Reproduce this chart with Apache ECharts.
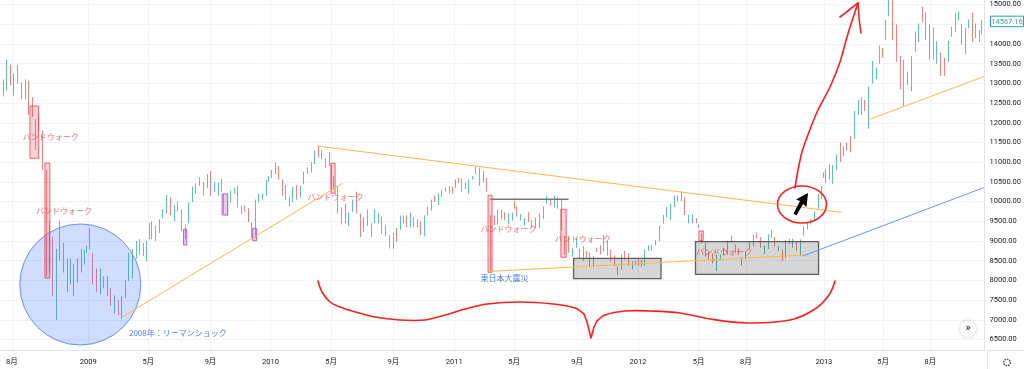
<!DOCTYPE html>
<html><head><meta charset="utf-8">
<script src="https://cdn.jsdelivr.net/npm/echarts@6/dist/echarts.min.js"></script>
<style>html,body{margin:0;padding:0;background:#fff;}#c{width:1024px;height:369px;}</style>
</head><body><div id="c"></div>
<script>
// Nikkei 225, weekly candles (week starting 2008-07-07 .. 2013-11-11)
// trading days in each week (x axis is a trading-day index, like the original chart)
const tradingDays = [
// 2008
5,5,4,5,5,5,5,5,5,5,4,4,5,5,4,5,5,4,5,5,4,5,5,5,4,2,
// 2009
5,4,5,5,5,4,5,5,5,5,4,5,5,5,5,5,4,2,5,5,5,5,5,5,5,5,5,5,4,5,5,5,5,5,5,5,5,2,5,5,4,5,5,4,5,5,4,5,5,5,4,3,
// 2010
5,4,5,5,5,4,5,5,5,5,5,4,5,5,5,5,4,2,5,5,5,5,5,5,5,5,5,5,4,5,5,5,5,5,5,5,5,3,5,5,4,5,5,4,5,5,4,5,5,5,4,4,
// 2011
4,4,5,5,5,4,5,5,5,5,5,4,5,5,5,5,4,2,5,5,5,5,5,5,5,5,5,5,4,5,5,5,5,5,5,5,5,3,5,5,4,5,5,4,5,5,4,5,5,5,4,5,
// 2012
3,4,5,5,5,5,5,5,5,5,5,4,5,5,5,5,5,2,5,5,5,5,5,5,5,5,5,5,4,5,5,5,5,5,5,5,5,4,5,5,4,5,5,5,5,5,4,5,5,5,5,4,
// 2013
1,5,4,5,5,5,4,5,5,5,5,4,5,5,5,5,5,3,4,5,5,5,5,5,5,5,5,5,4,5,5,5,5,5,5,5,5,4,4,5,5,4,5,5,4,3
];
const opens = [
13480,13030,12840,13290,13150,13250,13000,12650,13000,12300,12000,12100,11800,10800,8400,8800,7500,8800,8600,8450,8000,8400,8000,8300,8600,8740,
8990,8700,8250,7700,7950,8050,7750,7380,7450,7100,7600,8000,8500,8800,8950,8900,8700,9100,9450,9250,9250,9600,9800,10100,9800,9850,9800,9250,9450,10000,10350,10450,10500,10350,10600,10250,10350,10400,10150,9700,10000,10250,10300,9900,9800,9780,9450,9100,10100,10100,10150,10500,
10650,10850,10900,10550,10200,10000,10050,10200,10150,10450,10750,10800,11000,11300,11180,11000,11000,10900,10450,10400,9750,9700,9600,9750,10150,9680,9250,9550,9300,9500,9570,9580,9200,9100,9150,9300,9300,9600,9600,9380,9390,9500,9400,9150,9730,9830,10100,10120,10170,10290,10220,10350,
10350,10510,10500,10340,10240,10590,10720,10850,10620,10500,9600,9600,9480,9720,9720,9550,9670,9900,9790,9560,9460,9500,9380,9390,9350,9580,9960,10070,9890,10050,9960,9100,9080,8630,8850,8780,8530,8720,8370,8550,8770,8880,8840,8990,8770,8600,8350,8290,8700,8650,8300,8480,
8550,8420,8380,8770,8790,8930,9000,9480,9630,9700,9890,10140,10020,10110,9550,9470,9540,9400,9120,8970,8630,8590,8300,8620,8720,8730,9000,8900,8750,8510,8630,8800,8880,9170,9080,8780,8870,9120,9070,8800,8770,8580,9010,8930,8980,8680,9150,9390,9460,9530,9830,10080,
10600,10600,10880,10750,10820,11260,11370,11400,11660,11650,12350,12220,12550,12130,13190,13280,13570,13860,14180,14780,15360,14140,13260,13510,13030,13060,13850,14110,14600,14660,13660,14260,13520,13760,13640,13570,14200,14310,14730,14460,13850,14440,14690,14400,14220,14270
];
const closes = [
13040,12800,13330,13170,13170,13020,12670,13070,12210,12210,11920,11890,10940,8280,8690,7650,8580,8580,8460,7910,8510,7920,8240,8590,8740,8860,
8840,8230,7750,7990,8080,7780,7420,7570,7170,7570,7950,8630,8750,8960,8910,8710,8980,9430,9270,9230,9520,9770,10140,9790,9880,9820,9290,9400,9940,10360,10410,10600,10240,10530,10190,10440,10370,10270,9730,9980,10260,10280,10030,9790,9770,9500,9080,10020,10110,10140,10490,10550,
10800,10980,10590,10200,10060,10090,10120,10130,10370,10750,10820,10990,11290,11200,11100,10910,11060,10360,10460,9780,9770,9900,9700,9990,9740,9200,9590,9410,9430,9540,9640,9250,9180,8990,9110,9240,9630,9470,9400,9590,9500,9430,9200,9630,9720,10020,10040,10180,10210,10300,10280,10230,
10540,10500,10270,10360,10540,10600,10840,10530,10690,10250,9210,9540,9710,9770,9590,9680,9690,9860,9650,9610,9520,9490,9510,9350,9680,9870,10140,9970,10130,9830,9300,8960,8720,8800,8950,8740,8860,8560,8700,8600,8750,8680,9050,8800,8510,8370,8160,8640,8540,8400,8400,8460,
8390,8500,8770,8840,8830,8950,9380,9650,9780,9930,10130,10010,10080,9690,9640,9560,9520,9380,8950,8610,8590,8440,8460,8650,8800,9010,9020,8720,8670,8570,8560,8890,9160,9070,8840,8870,9160,9110,8870,8860,8530,9000,8930,9050,8760,9020,9370,9450,9530,9740,9940,10400,
10690,10800,10910,10930,11190,11150,11170,11390,11610,12280,12560,12340,12400,12830,13490,13320,13880,13690,14610,15140,14610,13770,12880,12690,13230,13680,14310,14510,14590,14130,14470,13620,13650,13660,13390,13860,14400,14740,14760,14020,14400,14560,14090,14200,14090,14567.16
];
const lows = [
12950,12670,12820,12950,12690,12990,12600,12600,12200,12150,11300,11800,10800,8110,8200,7600,6990,8500,8200,7700,7900,7600,7950,8200,8400,8700,
8800,7900,7700,7650,7800,7600,7350,7160,7120,7020,7550,7980,8050,8550,8650,8620,8480,9050,9050,9000,9200,9580,9700,9650,9500,9750,9250,9050,9450,9990,10200,10400,10150,10350,10150,10250,10150,10250,9700,9630,9980,10200,9850,9680,9740,9480,9080,9080,9980,10050,10150,10500,
10600,10700,10560,10150,10040,9870,9990,10050,10100,10450,10700,10750,10950,11120,11080,10850,10900,10300,10350,9700,9420,9460,9380,9740,9700,9100,9230,9380,9100,9450,9450,9180,9120,8810,8800,8980,9280,9450,9350,9350,9350,9350,9150,9120,9650,9770,9990,9920,10120,10250,10200,10200,
10350,10470,10250,10320,10200,10560,10700,10400,10480,10250,8230,9400,9420,9550,9530,9420,9520,9820,9620,9530,9390,9480,9350,9330,9320,9560,9950,9900,9850,9820,9270,8650,8700,8600,8830,8570,8500,8540,8340,8340,8720,8660,8740,8630,8480,8360,8140,8270,8520,8370,8280,8390,
8380,8350,8370,8750,8760,8900,8990,9440,9600,9540,9860,10000,10010,9660,9450,9450,9450,9330,8940,8600,8540,8430,8240,8520,8640,8650,9000,8700,8650,8370,8540,8790,8870,9060,8830,8670,8800,9080,8860,8740,8500,8570,8920,8830,8750,8620,9130,9300,9420,9520,9820,10070,
10600,10480,10560,10450,10800,11000,11150,11300,11250,11600,12200,12200,12300,11850,13000,13100,13500,13650,14100,14700,14100,13550,12850,12410,12950,12800,13800,14050,14550,14100,13600,13600,13500,13190,13190,13550,14180,14300,14600,13980,13750,14400,14050,14150,14050,14250
];
const highs = [
13520,13100,13600,13480,13250,13460,13030,13100,13070,12650,12100,12200,11800,10800,9500,9100,8800,9520,8950,8560,8550,8420,8560,8800,8770,8880,
9330,8700,8300,8300,8100,8100,7800,7620,7500,7600,8000,8700,8800,9000,9050,8950,9000,9450,9500,9400,9550,9800,10170,10100,9900,10000,9800,9420,9980,10380,10460,10620,10500,10700,10770,10500,10480,10580,10200,10000,10280,10350,10400,9900,9900,9830,9480,10050,10200,10200,10550,10650,
10800,10990,10900,10560,10420,10110,10370,10420,10400,10760,10870,11000,11300,11410,11300,11100,11250,10920,10650,10400,9850,9950,9720,10050,10250,9700,9600,9800,9450,9800,9700,9620,9400,9150,9200,9330,9650,9650,9650,9720,9600,9550,9500,9650,9880,10050,10150,10200,10300,10350,10400,10380,
10560,10600,10590,10500,10560,10650,10890,10860,10780,10600,9650,9650,9800,9800,9730,9700,9720,10020,9880,9680,9580,9730,9520,9600,9700,9880,10140,10080,10150,10110,10050,9120,9130,8820,9080,8800,8870,8750,8710,8620,8830,8890,9150,9000,8780,8630,8360,8660,8750,8680,8480,8500,
8580,8520,8780,8890,8890,9020,9390,9660,9870,9940,10150,10160,10260,10110,9660,9680,9580,9420,9200,8980,8740,8680,8650,8660,8830,9010,9140,8910,8810,8580,8720,9000,9170,9220,9100,8880,9170,9290,9100,8870,8780,9020,9060,9060,8990,9040,9380,9460,9560,9750,10200,10400,
10740,10820,10950,10930,11200,11500,11400,11500,11670,12300,12580,12650,12580,12920,13570,13400,13960,13900,14620,15160,15940,14500,13700,13600,13300,13700,14320,14520,14950,14800,14500,14420,14070,13780,13650,14080,14440,14800,14820,14500,14420,14620,14800,14520,14350,14600
];
// time-axis tick labels (trading-day index of the first session of the month)
const tickDays = [18,120,200,283,363,444,527,608,688,772,853,934,997,1101,1180,1243];
const tickLabels = ['8月','2009','5月','9月','2010','5月','9月','2011','5月','9月','2012','5月','8月','2013','5月','8月'];
const priceTicks = [6500,7000,7500,8000,8500,9000,9500,10000,10500,11000,11500,12000,12500,13000,13500,14000,14500,15000];

// drawings anchored on the chart (trading-day index, price)
const orangeLines = [[[164,7054],[459,10465]],[[425.5,11410],[1124,9728]],[[657,8230],[1075,8645]],[[1162,12090],[1314,13170]]];
const blueLines = [[[1073,8620],[1314,10353]]];
const grayLines = [[[656,10058],[760.5,10058]]];
const redBoxes = [[42.2,12426,53.8,11099],[62.2,10980,68.8,8061],[443.5,10972,449.2,10211],[653.1,10160,658.5,8206],[750.2,9805,757.4,8586],[934.3,9254,940.1,9008]];
const purpleBoxes = [[247.1,9297,251.4,8898],[298.5,10193,306,9660],[339.2,9322,344.5,9008]];
const grayBoxes = [[767.2,8561,883.8,8043],[929.8,8983,1093.9,8155]];
const circleCenter = [109.4,7896];
const redNotes = [['バンドウォーク',32.5,11640],['バンドウォーク',50.2,9769],['バンドウォーク',412.4,10125],['バンドウォーク',643,9297],['バンドウォーク',742,9043],['バンドウォーク',930.7,8729]];
const blueNotes = [['東日本大震災',643,8068],['2008年：リーマンショック',174.3,6658]];

const FONT = 'Roboto, "Noto Sans CJK JP", sans-serif';
const JP = '"Noto Sans CJK JP", sans-serif';

let s = 0;
const candles = tradingDays.map((n, i) => {
  const x = s + (n - 1) / 2; s += n;
  return [x, opens[i], closes[i], lows[i], highs[i]];
});

const chart = echarts.init(document.getElementById('c'), null, {renderer: 'canvas'});
chart.setOption({
  animation: false,
  backgroundColor: '#ffffff',
  grid: {left: 0, right: 37, top: 0, bottom: 19},
  xAxis: {
    type: 'value', min: 2.3, max: 1315.2,
    axisLine: {show: true, onZero: false, lineStyle: {color: '#e0e3eb'}},
    axisTick: {show: false, customValues: tickDays},
    axisLabel: {customValues: tickDays, formatter: v => tickLabels[tickDays.indexOf(v)] || '', fontSize: 7.5, color: '#131722', margin: 8, fontFamily: FONT},
    splitLine: {show: true, lineStyle: {color: '#f0f3fa', width: 1}}
  },
  yAxis: {
    type: 'value', position: 'right', min: 6233, max: 15117,
    axisLine: {show: true, lineStyle: {color: '#e0e3eb'}},
    axisTick: {show: false, customValues: priceTicks},
    axisLabel: {customValues: priceTicks, formatter: v => v.toFixed(2), fontSize: 7.5, color: '#131722', margin: 5, fontFamily: FONT},
    splitLine: {show: true, lineStyle: {color: '#f0f3fa', width: 1}}
  },
  series: [{
    type: 'candlestick', data: candles, encode: {x: 0, y: [1, 2, 3, 4]},
    barWidth: 1.2,
    itemStyle: {color: '#26a69a', color0: '#ef5350', borderColor: '#26a69a', borderColor0: '#ef5350', borderWidth: 1, opacity: 0.72}
  }]
});

const P = (i, v) => chart.convertToPixel({seriesIndex: 0}, [i, v]);
const g = [];
const line = (pts, color, w, z) => {
  const a = P(pts[0][0], pts[0][1]), b = P(pts[1][0], pts[1][1]);
  g.push({type: 'line', z: z || 100, shape: {x1: a[0], y1: a[1], x2: b[0], y2: b[1]}, style: {stroke: color, lineWidth: w}});
};
const box = (r, fill, stroke, w) => {
  const a = P(r[0], r[1]), b = P(r[2], r[3]);
  g.push({type: 'rect', z: 100, shape: {x: a[0], y: a[1], width: b[0] - a[0], height: b[1] - a[1]}, style: {fill: fill, stroke: stroke, lineWidth: w}});
};
const note = (t, color) => {
  const a = P(t[1], t[2]);
  g.push({type: 'text', z: 120, x: a[0], y: a[1], style: {text: t[0], fill: color, fontSize: 8, fontFamily: JP, align: 'left', textAlign: 'left', verticalAlign: 'middle', textVerticalAlign: 'middle'}});
};

// blue circle
const cc = P(circleCenter[0], circleCenter[1]);
g.push({type: 'circle', z: 95, shape: {cx: cc[0], cy: cc[1], r: 60.5}, style: {fill: 'rgba(41,98,255,0.22)', stroke: '#6a8ff5', lineWidth: 1}});
grayBoxes.forEach(r => box(r, 'rgba(0,0,0,0.16)', '#5d5d5d', 1.3));
redBoxes.forEach(r => box(r, 'rgba(242,54,69,0.22)', 'rgba(242,54,69,0.75)', 1));
purpleBoxes.forEach(r => box(r, 'rgba(186,104,200,0.35)', '#b366cf', 1));
orangeLines.forEach(l => line(l, '#ffb74d', 1));
blueLines.forEach(l => line(l, '#6f92f5', 1));
grayLines.forEach(l => line(l, '#787878', 1.5));
redNotes.forEach(t => note(t, 'rgba(242,54,69,0.72)'));
blueNotes.forEach(t => note(t, '#4f7cf5'));

// hand-drawn red marks (screen drawings)
const red = {stroke: '#ff1e1e', lineWidth: 1.6, fill: null, lineCap: 'round', lineJoin: 'round'};
g.push({type: 'polyline', z: 110, shape: {smooth: 0.35, points: [[318,281],[322,292],[330,302],[340,307],[352,311],[375,317],[400,320],[425,320],[445,315],[465,309],[487,304],[520,302],[553,304],[575,308],[584,314]]}, style: red});
g.push({type: 'polyline', z: 110, shape: {points: [[584,314],[587,322],[591,338],[594,327],[597,321]]}, style: red});
g.push({type: 'polyline', z: 110, shape: {smooth: 0.35, points: [[597,321],[605,315],[625,311],[650,311],[680,313],[710,319],[747,323],[790,320],[815,309],[829,295],[835,281]]}, style: red});
g.push({type: 'ellipse', z: 110, shape: {cx: 802, cy: 204.5, rx: 24.5, ry: 18.5}, style: red});
g.push({type: 'polyline', z: 110, shape: {smooth: 0.3, points: [[795,188],[798,170],[802,152],[809,132],[818,110],[830,87],[840,62],[847,37],[853,18],[858,3]]}, style: red});
g.push({type: 'polyline', z: 110, shape: {smooth: 0.3, points: [[840,17],[849,10],[858,3]]}, style: red});
g.push({type: 'polyline', z: 110, shape: {points: [[858,3],[859,18],[861,33]]}, style: red});
// black arrow
g.push({type: 'polygon', z: 111, shape: {points: [[808,193],[806.5,207],[803,204],[796.5,215.5],[793.5,213.5],[800,201],[796,199.5]]}, style: {fill: '#000'}});

// last price label
const last = closes[closes.length - 1];
const lp = P(candles[candles.length - 1][0], last);
g.push({type: 'rect', z: 120, shape: {x: 990.5, y: lp[1] - 5.5, width: 33, height: 10.5}, style: {fill: '#fff', stroke: '#26a69a', lineWidth: 1}});
g.push({type: 'text', z: 121, x: 1007, y: lp[1], style: {text: last.toFixed(2), fill: '#26a69a', fontSize: 7.5, fontFamily: FONT, align: 'center', textAlign: 'center', verticalAlign: 'middle', textVerticalAlign: 'middle'}});

// frame extensions and chart buttons
g.push({type: 'line', z: 90, shape: {x1: 987, y1: 350.5, x2: 1024, y2: 350.5}, style: {stroke: '#e0e3eb', lineWidth: 1}});
g.push({type: 'line', z: 90, shape: {x1: 987.5, y1: 350, x2: 987.5, y2: 369}, style: {stroke: '#e0e3eb', lineWidth: 1}});
g.push({type: 'circle', z: 120, shape: {cx: 968, cy: 329, r: 8}, style: {fill: '#fff', shadowBlur: 4, shadowColor: 'rgba(0,0,0,0.2)'}});
g.push({type: 'text', z: 121, x: 968, y: 328.5, style: {text: '»', fill: '#131722', fontSize: 11, fontFamily: FONT, align: 'center', textAlign: 'center', verticalAlign: 'middle', textVerticalAlign: 'middle'}});
g.push({type: 'circle', z: 120, shape: {cx: 1007, cy: 362.5, r: 3.3}, style: {fill: null, stroke: '#3a3e4a', lineWidth: 1.3, lineDash: [1.6, 0.9]}});

chart.setOption({graphic: g});
</script>
</body></html>
